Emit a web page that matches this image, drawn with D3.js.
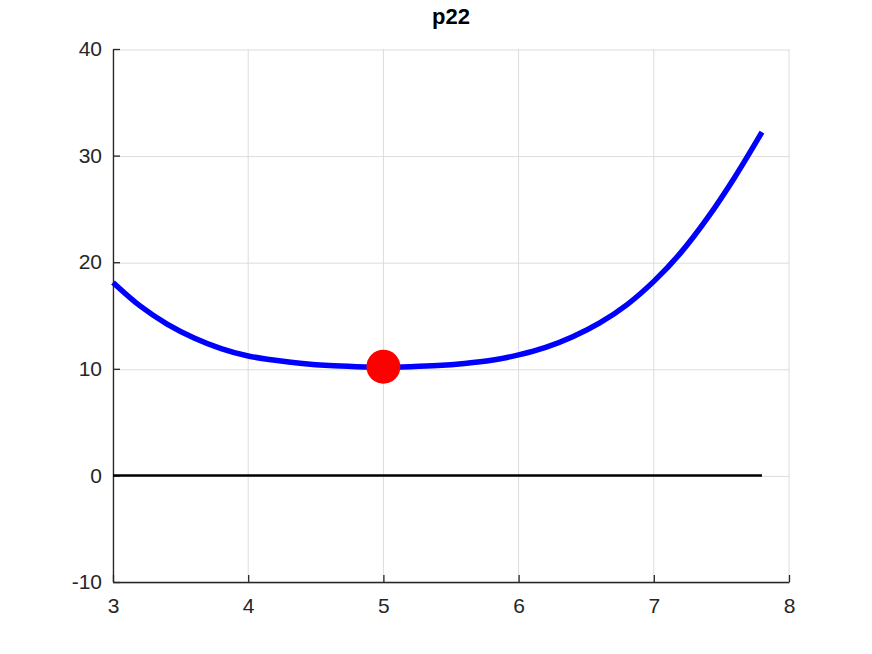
<!DOCTYPE html>
<html>
<head>
<meta charset="utf-8">
<script src="https://cdn.jsdelivr.net/npm/d3@7"></script>
<style>
  body { margin: 0; background: #fff; }
  text { font-family: "Liberation Sans", Arial, sans-serif; }
</style>
</head>
<body>
<script>
// curve
var xs = [3.0, 3.2, 3.4, 3.6, 3.8, 4.0, 4.2, 4.4, 4.6, 4.8, 5.0, 5.2, 5.4, 5.6, 5.8, 6.0, 6.2, 6.4, 6.6, 6.8, 7.0, 7.2, 7.4, 7.6, 7.8];
var ys = [18.1, 15.9, 14.2, 12.9, 11.9, 11.2, 10.8, 10.5, 10.3, 10.2, 10.15, 10.2, 10.3, 10.5, 10.8, 11.3, 12.0, 13.0, 14.3, 16.0, 18.2, 20.9, 24.2, 28.0, 32.2];
var zeroX = [3.0, 7.8];
var zeroY = [0, 0];
var pointX = [5];
var pointY = [10.2];
var xTicks = [3, 4, 5, 6, 7, 8];
var yTicks = [-10, 0, 10, 20, 30, 40];

var width = 872, height = 654;
var margin = {top: 49, right: 83, bottom: 72, left: 113};
var w = width - margin.left - margin.right,
    h = height - margin.top - margin.bottom;

var xScale = d3.scaleLinear().domain([3, 8]).range([0, w]);
var yScale = d3.scaleLinear().domain([-10, 40]).range([h, 0]);

var svg = d3.select('body').append('svg')
  .attr('width', width)
  .attr('height', height)
  .append('g')
    .attr('transform', 'translate(' + margin.left + ',' + margin.top + ')');

// grid
svg.selectAll('.vgrid').data(xTicks).enter().append('line')
  .attr('x1', function(d) { return xScale(d); })
  .attr('x2', function(d) { return xScale(d); })
  .attr('y1', 0).attr('y2', h)
  .attr('stroke', '#dcdcdc').attr('stroke-width', 1);
svg.selectAll('.hgrid').data(yTicks).enter().append('line')
  .attr('x1', 0).attr('x2', w)
  .attr('y1', function(d) { return yScale(d) + 1; })
  .attr('y2', function(d) { return yScale(d) + 1; })
  .attr('stroke', '#dcdcdc').attr('stroke-width', 1);

var fmt = function(d) { return String(d); };

// axes
var xAxis = svg.append('g')
  .attr('transform', 'translate(0,' + h + ')')
  .call(d3.axisBottom(xScale).tickValues(xTicks).tickFormat(fmt).tickSizeInner(-7).tickSizeOuter(0).tickPadding(16));
var yAxis = svg.append('g')
  .call(d3.axisLeft(yScale).tickValues(yTicks).tickFormat(fmt).tickSizeInner(-7).tickSizeOuter(0).tickPadding(11));

[xAxis, yAxis].forEach(function(a) {
  a.attr('font-size', 21).attr('font-family', '"Liberation Sans", Arial, sans-serif');
  a.select('.domain').attr('stroke', '#262626').attr('stroke-width', 1.3);
  a.selectAll('.tick line').attr('stroke', '#262626').attr('stroke-width', 1.3);
  a.selectAll('.tick text').attr('fill', '#262626');
});

// zero line
var line = d3.line()
  .x(function(d) { return xScale(d[0]); })
  .y(function(d) { return yScale(d[1]); });

svg.append('path')
  .datum(d3.zip(zeroX, zeroY))
  .attr('d', line)
  .attr('fill', 'none')
  .attr('stroke', '#000')
  .attr('stroke-width', 2.5);

// curve
svg.append('path')
  .datum(d3.zip(xs, ys))
  .attr('d', line.curve(d3.curveCatmullRom))
  .attr('fill', 'none')
  .attr('stroke', '#0000ff')
  .attr('stroke-width', 5.5);

// point
svg.selectAll('.dot').data(d3.zip(pointX, pointY)).enter().append('circle')
  .attr('cx', function(d) { return xScale(d[0]); })
  .attr('cy', function(d) { return yScale(d[1]); })
  .attr('r', 17)
  .attr('fill', '#ff0000');

// title
svg.append('text')
  .attr('x', w / 2)
  .attr('y', -25)
  .attr('text-anchor', 'middle')
  .attr('font-size', 22)
  .attr('font-weight', 'bold')
  .attr('fill', '#000')
  .text('p22');
</script>
</body>
</html>
